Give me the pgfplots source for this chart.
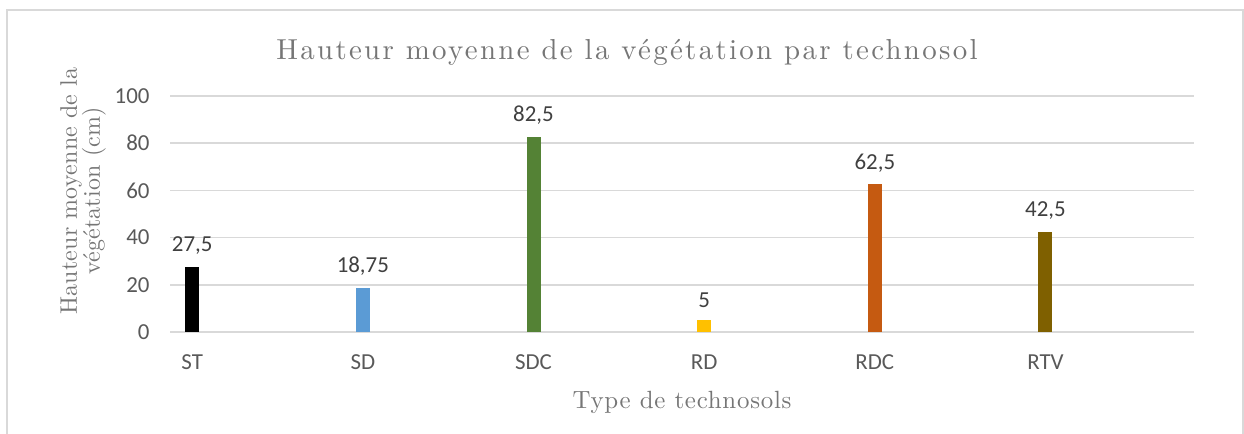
\documentclass[border=0pt]{standalone}
\usepackage{pgfplots}
\pgfplotsset{compat=1.18}
\usepackage{fontspec}
\setsansfont{Carlito}
\newfontfamily\titlefont{lmroman10-regular}[Extension=.otf, LetterSpace=8]
\newfontfamily\xlabfont{lmroman10-regular}[Extension=.otf, LetterSpace=3]
\newfontfamily\ylabfont{lmroman10-regular}[Extension=.otf, LetterSpace=1]
\definecolor{gridc}{HTML}{D9D9D9}
\definecolor{txt}{HTML}{595959}
\definecolor{lab}{HTML}{404040}
\definecolor{ttl}{HTML}{767676}
\definecolor{cST}{HTML}{000000}
\definecolor{cSD}{HTML}{5B9BD5}
\definecolor{cSDC}{HTML}{548235}
\definecolor{cRD}{HTML}{FFC000}
\definecolor{cRDC}{HTML}{C55A11}
\definecolor{cRTV}{HTML}{7F6000}
\begin{document}
\begin{tikzpicture}
\path[use as bounding box] (0bp,0bp) rectangle (1244bp,434bp);
\draw[gridc, line width=1.2bp] (7bp,0bp) -- (7bp,424bp) -- (1243bp,424bp) -- (1243bp,0bp);
\node[color=ttl, font=\titlefont\fontsize{29}{33}\selectfont] at (627bp,382bp) {Hauteur moyenne de la végétation par technosol};
\node[color=ttl, font=\xlabfont\fontsize{25}{29}\selectfont] at (682bp,32bp) {Type de technosols};
\node[color=ttl, rotate=90, align=center, font=\ylabfont\fontsize{24}{23}\selectfont] at (83bp,243bp) {Hauteur moyenne de la\\végétation (cm)};
\begin{axis}[
  at={(170bp,102bp)}, anchor=south west, scale only axis,
  width=1024bp, height=236bp,
  xmin=-0.13, xmax=5.87, ymin=0, ymax=100,
  ytick={0,20,...,100}, xtick={0,...,5},
  xticklabels={ST,SD,SDC,RD,RDC,RTV},
  axis line style={draw=none}, major tick length=0pt,
  ymajorgrids, grid style={gridc, line width=1.5bp},
  /pgf/number format/assume math mode=true,
  ticklabel style={font=\sffamily\fontsize{23}{27}\selectfont, color=txt},
  yticklabel style={xshift=-17bp},
  xticklabel style={yshift=-19bp},
  ybar, bar width=14bp,
  nodes near coords,
  /pgf/number format/.cd, use comma, precision=2, fixed,
  /pgfplots/.cd,
  every node near coord/.append style={font=\sffamily\fontsize{23}{27}\selectfont, color=lab, yshift=9bp},
  clip=false,
]
\addplot[draw=none, fill=cST, bar shift=0pt] coordinates {(0,27.5)};
\addplot[draw=none, fill=cSD, bar shift=0pt] coordinates {(1,18.75)};
\addplot[draw=none, fill=cSDC, bar shift=0pt] coordinates {(2,82.5)};
\addplot[draw=none, fill=cRD, bar shift=0pt] coordinates {(3,5)};
\addplot[draw=none, fill=cRDC, bar shift=0pt] coordinates {(4,62.5)};
\addplot[draw=none, fill=cRTV, bar shift=0pt] coordinates {(5,42.5)};
\end{axis}
\end{tikzpicture}
\end{document}
